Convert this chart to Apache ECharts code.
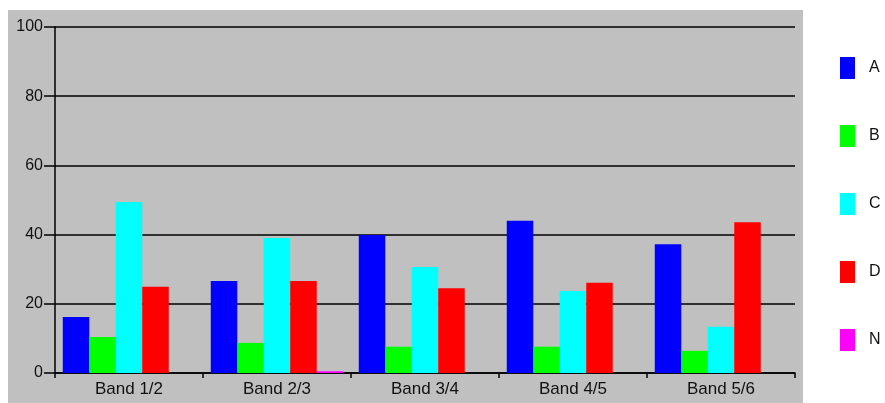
<!DOCTYPE html>
<html><head><meta charset="utf-8">
<script src="https://cdn.jsdelivr.net/npm/echarts@6/dist/echarts.min.js"></script>
<style>html,body{margin:0;padding:0;background:#fff}#c{width:885px;height:403px}</style>
</head><body><div id="c"></div>
<script>
const categories = ['Band 1/2','Band 2/3','Band 3/4','Band 4/5','Band 5/6'];
const seriesNames = ['A','B','C','D','N'];
const seriesColors = ['#0000ff','#00ff00','#00ffff','#ff0000','#ff00ff'];
const valuesA = [16.2, 26.6, 39.9, 44.0, 37.2];
const valuesB = [10.4, 8.7, 7.6, 7.6, 6.4];
const valuesC = [49.4, 39.0, 30.6, 23.7, 13.4];
const valuesD = [24.9, 26.6, 24.5, 26.1, 43.6];
const valuesN = [0, 0.5, 0, 0, 0];
const yTicks = [0, 20, 40, 60, 80, 100];

const allValues = [valuesA, valuesB, valuesC, valuesD, valuesN];
const chart = echarts.init(document.getElementById('c'));
const font = 'Liberation Sans, Arial, sans-serif';
chart.setOption({
  animation: false,
  backgroundColor: '#ffffff',
  graphic: [{type:'rect', z:-100, silent:true, shape:{x:8,y:10,width:795,height:393}, style:{fill:'#c0c0c0'}}],
  grid: {left:55, right:90, top:27, bottom:30},
  legend: {
    orient:'vertical', left:835, top:52, itemWidth:15, itemHeight:22, itemGap:46,
    icon:'rect', textStyle:{fontFamily:font, fontSize:16, color:'#111', padding:[0,0,0,9]},
    data: seriesNames
  },
  xAxis: {
    type:'category', data:categories,
    axisLine:{lineStyle:{color:'#000', width:1.5}},
    axisTick:{show:true, alignWithLabel:false, length:5, lineStyle:{color:'#000', width:1.5}},
    axisLabel:{fontFamily:font, fontSize:17, color:'#111', margin:8}
  },
  yAxis: {
    type:'value', min:yTicks[0], max:yTicks[yTicks.length-1], interval:20,
    axisLine:{show:true, lineStyle:{color:'#000', width:1.5}},
    axisTick:{show:true, length:11, lineStyle:{color:'#000', width:1.5}},
    splitLine:{show:true, lineStyle:{color:'#000', width:1.5}},
    axisLabel:{fontFamily:font, fontSize:16, color:'#111', margin:12, verticalAlign:'bottom', padding:[0,0,-8,0]}
  },
  series: seriesNames.map((n,i)=>({
    name:n, type:'bar', data:allValues[i], barGap:'0%', barCategoryGap:'10.5%',
    itemStyle:{color:seriesColors[i]}
  }))
});
</script></body></html>
